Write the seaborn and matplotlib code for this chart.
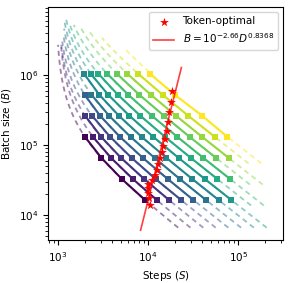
import numpy as np
import pandas as pd
import seaborn as sns
import matplotlib
matplotlib.use("Agg")
import matplotlib.pyplot as plt

# batch sizes (tokens) of the measured runs
batch_sizes = [1048576, 524288, 262144, 131072, 65536, 32768, 16384]

# steps needed to reach each loss target, one list per target (None = not measured)
steps = [
    [None, None, None, 1990, 3030, 5100, 9260],
    [None, None, None, 2440, 3880, 6770, 12500],
    [None, None, 2000, 3010, 5010, 9030, 17100],
    [None, None, 2390, 3790, 6570, 12100, 23300],
    [None, 1970, 2930, 4870, 8740, 16500, 31900],
    [None, 2350, 3690, 6380, 11800, 22500, 44000],
    [1940, 2870, 4740, 8480, 16000, 30900, 60800],
    [2300, 3600, 6200, 11400, 21800, 42600, 84100],
    [2800, 4610, 8210, 15400, 29800, 58700, None],
    [3510, 6020, 11000, 21100, 41100, 81300, None],
    [4490, 7980, 15000, 28900, 56800, None, None],
    [5850, 10700, 20400, 39800, 78500, None, None],
    [7730, 14500, 27900, 54900, None, None, None],
    [10400, 19700, 40000, 75800, None, None, None],
]

# extent (in batch size) of each dashed fitted curve
fit_batch_max = [2.7e6, 2.5e6, 2.7e6, 3.0e6, 3.7e6, 4.6e6, 5.6e6,
                 6.5e6, 5.6e6, 5.2e6, 4.6e6, 4.1e6, 3.4e6, 2.5e6]
fit_batch_min = [6600, 6600, 6600, 6600, 6600, 6600, 6600,
                 6600, 13700, 13700, 27300, 27300, 54600, 54600]

# token-optimal points
star_steps = [18490, 18020, 17110, 16680, 16260, 15450, 14680, 14310, 13590,
              12920, 12590, 11960, 11070, 10000, 10000, 10000, 10260, 10520]
star_batch = [5.9e5, 4.11e5, 2.96e5, 2.13e5, 1.585e5, 1.22e5, 9.68e4, 7.94e4, 6.52e4,
              5.35e4, 4.39e4, 3.73e4, 3.16e4, 2.77e4, 2.43e4, 2.06e4, 1.75e4, 1.39e4]

# power-law fit B = 10^a D^b, drawn over this token range
fit_a = -2.66
fit_b = 0.8368
fit_tokens = [5e7, 3e10]

n = len(steps)
names = [f"t{i:02d}" for i in range(n)]
cols = plt.cm.viridis(np.linspace(0, 1, n))
pal = {nm: c for nm, c in zip(names, cols)}

rows = []
fit_rows = []
for k, (nm, s_list) in enumerate(zip(names, steps)):
    bs = np.array([b for b, s in zip(batch_sizes, s_list) if s is not None], float)
    ss = np.array([s for s in s_list if s is not None], float)
    for b, s in zip(bs, ss):
        rows.append({"curve": nm, "steps": s, "batch": b})
    # fit S = Smin + Emin / B
    emin, smin = np.polyfit(1 / bs, ss, 1)
    for b in np.geomspace(fit_batch_min[k], fit_batch_max[k], 60):
        fit_rows.append({"curve": nm, "steps": smin + emin / b, "batch": b})

sq = pd.DataFrame(rows)
fits = pd.DataFrame(fit_rows)

fig, ax = plt.subplots(figsize=(2.91, 2.83), dpi=100)
fig.subplots_adjust(left=0.165, right=0.973, bottom=0.152, top=0.975)

sns.lineplot(data=fits, x="steps", y="batch", hue="curve", palette=pal, sort=False,
             estimator=None, linestyle=(0, (2.8, 2.2)), lw=1.3, alpha=0.5,
             legend=False, ax=ax, zorder=1)
sns.lineplot(data=sq, x="steps", y="batch", hue="curve", palette=pal, estimator=None,
             marker="s", markersize=4.5, markeredgewidth=0, lw=1.5,
             legend=False, ax=ax, zorder=2)

d = np.geomspace(fit_tokens[0], fit_tokens[1], 50)
b_line = 10 ** fit_a * d ** fit_b
sns.lineplot(x=d / b_line, y=b_line, color="red", alpha=0.75, lw=1.2, sort=False,
             label=r"$B = 10^{-2.66} D^{0.8368}$", ax=ax, zorder=4)
sns.scatterplot(x=star_steps, y=star_batch, marker="*", color="red", s=45,
                linewidth=0, label="Token-optimal", ax=ax, zorder=5)

ax.set_xscale("log")
ax.set_yscale("log")
ax.set_xlim(774, 3.16e5)
ax.set_ylim(4.4e3, 9.36e6)
ax.set_xlabel(r"Steps ($S$)", fontsize=7.5)
ax.set_ylabel(r"Batch size ($B$)", fontsize=7.5)
ax.tick_params(labelsize=7.5)

h, l = ax.get_legend_handles_labels()
ax.legend(h[::-1], l[::-1], loc="upper right", fontsize=7.5)

plt.savefig("out.png", dpi=100)
